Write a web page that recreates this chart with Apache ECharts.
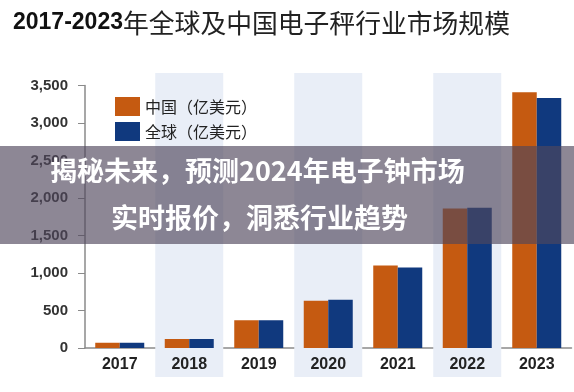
<!DOCTYPE html>
<html>
<head>
<meta charset="utf-8">
<script src="https://cdn.jsdelivr.net/npm/echarts@6/dist/echarts.min.js"></script>
<style>
html,body{margin:0;padding:0;background:#fff;}
#main{width:574px;height:392px;}
</style>
</head>
<body>
<div id="main"></div>
<script>
var categories = ['2017','2018','2019','2020','2021','2022','2023'];
var chinaValues = [70, 120, 370, 630, 1100, 1860, 3410];
var globalValues = [70, 120, 370, 645, 1075, 1870, 3335];
var bandFlags = [0, 1, 0, 1, 0, 1, 0];
var yTicks = [0, 500, 1000, 1500, 2000, 2500, 3000, 3500];
var titleDigits = '2017-2023';
var titleText = '年全球及中国电子秤行业市场规模';
var seriesNames = ['中国（亿美元）', '全球（亿美元）'];
var overlayLine1 = '揭秘未来，预测2024年电子钟市场';
var overlayLine2 = '实时报价，洞悉行业趋势';

var chart = echarts.init(document.getElementById('main'), null, {renderer:'canvas'});
var fmt = function(v){ return v.toString().replace(/\B(?=(\d{3})+(?!\d))/g, ','); };

chart.setOption({
  animation: false,
  backgroundColor: '#ffffff',
  title: {
    left: 8, top: 5,
    text: '{a|' + titleDigits + '}{b|' + titleText + '}',
    textStyle: {
      rich: {
        a: {fontFamily: 'Liberation Sans', fontWeight: 'bold', fontSize: 23, color: '#111'},
        b: {fontFamily: 'Noto Sans CJK SC', fontWeight: 'normal', fontSize: 25.8, color: '#222'}
      }
    }
  },
  legend: {
    orient: 'vertical',
    left: 110, top: 92,
    itemWidth: 25, itemHeight: 19, itemGap: 6,
    icon: 'rect',
    data: seriesNames,
    textStyle: {fontFamily: 'Noto Sans CJK SC', fontSize: 16, color: '#222', padding: [0,0,0,0]}
  },
  grid: [
    {left: 85, right: 2.5, top: 85.5, bottom: 44},
    {left: 85, right: 2.5, top: 73, bottom: 15}
  ],
  xAxis: [
    {
      type: 'category', data: categories, gridIndex: 0,
      axisLine: {lineStyle: {color: '#8a8a8a', width: 1.5}},
      axisTick: {show: false},
      axisLabel: {fontFamily: 'Liberation Sans', fontWeight: 'bold', fontSize: 16, color: '#222', margin: 9}
    },
    {type: 'category', data: categories, gridIndex: 1, show: false}
  ],
  yAxis: [
    {
      type: 'value', gridIndex: 0, min: 0, max: 3500, interval: 500,
      axisLine: {show: true, lineStyle: {color: '#8a8a8a', width: 1.5}},
      axisTick: {show: true, length: 7, lineStyle: {color: '#8a8a8a'}},
      splitLine: {show: false},
      axisLabel: {
        fontFamily: 'Liberation Sans', fontWeight: 'bold', fontSize: 15, color: '#333', margin: 17,
        formatter: function(v){ return yTicks.indexOf(v) >= 0 ? fmt(v) : ''; }
      }
    },
    {type: 'value', gridIndex: 1, min: 0, max: 1, show: false}
  ],
  series: [
    {
      type: 'bar', xAxisIndex: 1, yAxisIndex: 1, data: bandFlags,
      barWidth: 68, silent: true, z: 0,
      itemStyle: {color: '#e9eef7'}
    },
    {
      name: seriesNames[0], type: 'bar', data: chinaValues, barWidth: 24.5, barGap: '0%', z: 2,
      itemStyle: {color: '#c55a11'}
    },
    {
      name: seriesNames[1], type: 'bar', data: globalValues, barWidth: 24.5, barGap: '0%', z: 2,
      itemStyle: {color: '#10397e'}
    }
  ],
  graphic: [
    {
      type: 'rect', left: 0, top: 146, z: 100,
      shape: {width: 574, height: 98},
      style: {fill: 'rgba(80,70,92,0.65)'}
    },
    {
      type: 'text', z: 101, left: 50, top: 157,
      style: {text: overlayLine1, fill: '#fff', font: 'bold 27px "Noto Sans CJK SC"'}
    },
    {
      type: 'text', z: 101, left: 111, top: 204,
      style: {text: overlayLine2, fill: '#fff', font: 'bold 27px "Noto Sans CJK SC"'}
    }
  ]
});
</script>
</body>
</html>
